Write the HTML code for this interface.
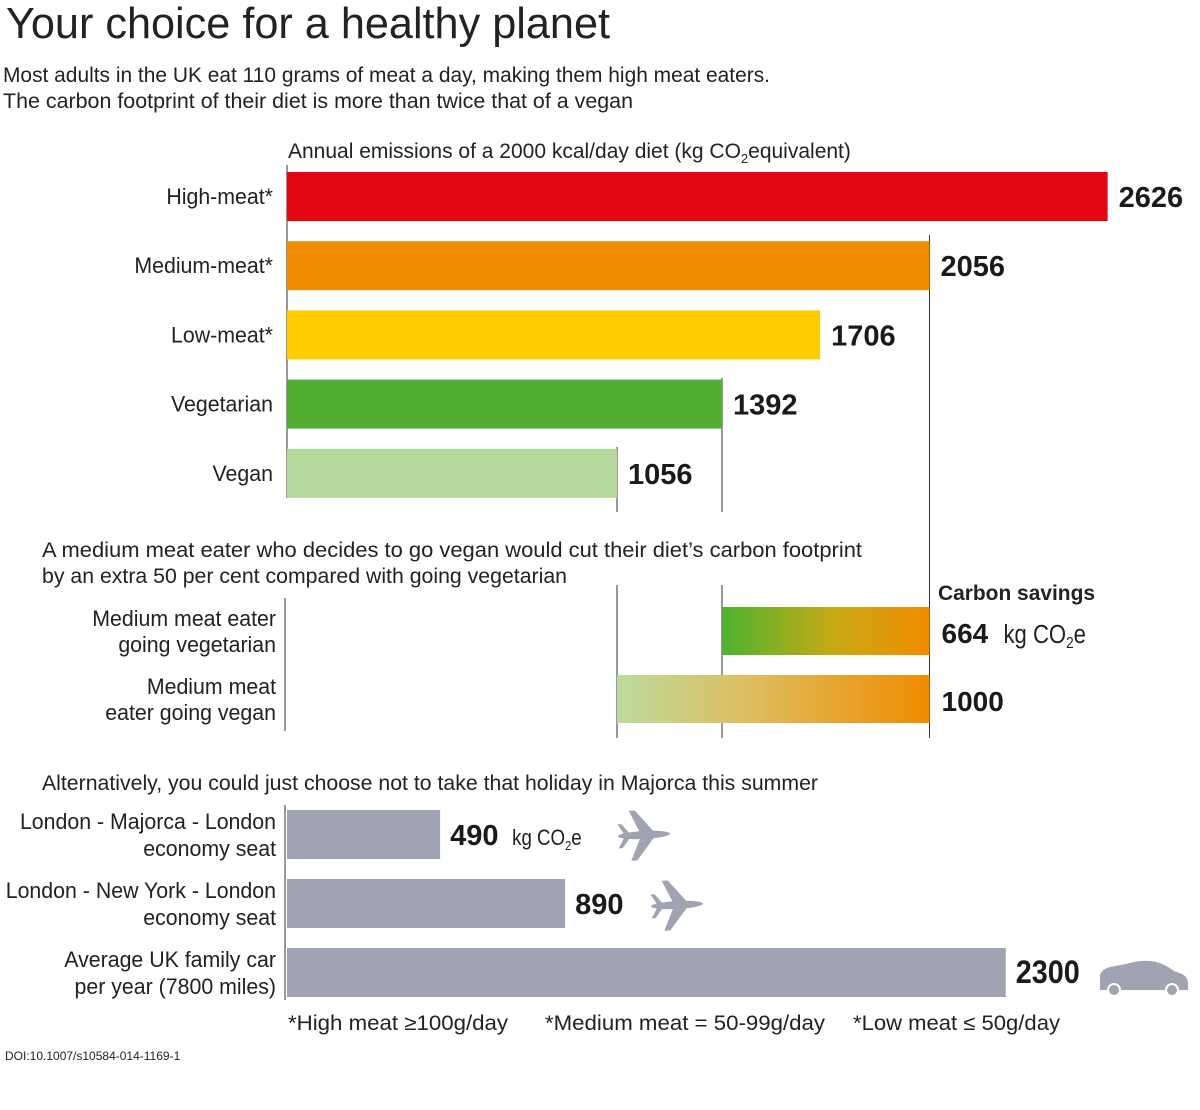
<!DOCTYPE html>
<html><head><meta charset="utf-8"><style>
html,body{margin:0;padding:0;background:#fff;}
svg{display:block;font-family:"Liberation Sans",sans-serif;}
</style></head><body>
<svg id="chart" width="1200" height="1110" viewBox="0 0 1200 1110">
<defs>
<linearGradient id="g1" x1="0" x2="1" y1="0" y2="0"><stop offset="0" stop-color="#4db330"/><stop offset="0.55" stop-color="#c9a914"/><stop offset="1" stop-color="#f08c00"/></linearGradient>
<linearGradient id="g2" x1="0" x2="1" y1="0" y2="0"><stop offset="0" stop-color="#bcdb9e"/><stop offset="0.4" stop-color="#dcbf62"/><stop offset="1" stop-color="#f08c00"/></linearGradient>
<g id="plane"><ellipse cx="0" cy="0" rx="26" ry="4" fill="#a0a4b2"/><polygon points="-4,-3 -14,-25 -8,-25 10,-3 10,3 -8,25 -14,25 -4,3" fill="#a0a4b2"/><polygon points="-20,-2 -26,-12 -22,-12 -14,-2 -14,2 -22,12 -26,12 -20,2" fill="#a0a4b2"/></g>
</defs>
<text x="6" y="38" font-size="44" fill="#222" textLength="604" lengthAdjust="spacingAndGlyphs">Your choice for a healthy planet</text>
<text x="3" y="82" font-size="21" fill="#222" textLength="767" lengthAdjust="spacingAndGlyphs">Most adults in the UK eat 110 grams of meat a day, making them high meat eaters.</text>
<text x="3" y="108" font-size="21" fill="#222" textLength="630" lengthAdjust="spacingAndGlyphs">The carbon footprint of their diet is more than twice that of a vegan</text>
<text x="288" y="158" font-size="21" fill="#222">Annual emissions of a 2000 kcal/day diet (kg CO<tspan font-size="13" dy="5">2</tspan><tspan dy="-5">equivalent)</tspan></text>
<g id="lines"></g>
<g id="diet"></g>
<text x="42" y="557" font-size="21" fill="#222" textLength="820" lengthAdjust="spacingAndGlyphs">A medium meat eater who decides to go vegan would cut their diet’s carbon footprint</text>
<text x="42" y="583" font-size="21" fill="#222" textLength="525" lengthAdjust="spacingAndGlyphs">by an extra 50 per cent compared with going vegetarian</text>
<text x="938" y="600" font-size="21" fill="#222" font-weight="bold" textLength="157" lengthAdjust="spacingAndGlyphs">Carbon savings</text>
<g id="savings"></g>
<text x="42" y="790" font-size="21" fill="#222" textLength="776" lengthAdjust="spacingAndGlyphs">Alternatively, you could just choose not to take that holiday in Majorca this summer</text>
<g id="travel"></g>
<use href="#plane" transform="translate(644,835) rotate(-3)"/>
<use href="#plane" transform="translate(677,905) rotate(-3)"/>
<g fill="#a0a4b2">
<path d="M1100,990 L1100,975 Q1102,969 1110,967 L1126,964 Q1138,960 1150,961 Q1162,962 1174,971 L1182,974 Q1188,977 1188,984 L1188,990 Z"/>
<circle cx="1114" cy="990" r="6" stroke="#fff" stroke-width="2"/><circle cx="1172" cy="990" r="6" stroke="#fff" stroke-width="2"/>
</g>
<text x="288" y="1030" font-size="21" fill="#222" textLength="220" lengthAdjust="spacingAndGlyphs">*High meat ≥100g/day</text>
<text x="545" y="1030" font-size="21" fill="#222" textLength="280" lengthAdjust="spacingAndGlyphs">*Medium meat = 50-99g/day</text>
<text x="853" y="1030" font-size="21" fill="#222" textLength="207" lengthAdjust="spacingAndGlyphs">*Low meat ≤ 50g/day</text>
<text x="5" y="1060" font-size="12" fill="#222">DOI:10.1007/s10584-014-1169-1</text>
</svg>
<script>
const dietCats=["High-meat*","Medium-meat*","Low-meat*","Vegetarian","Vegan"];
const dietVals=[2626,2056,1706,1392,1056];
const dietColors=["#e30613","#f08c00","#ffcc00","#52ae32","#b5d99c"];
const savingsLabels=[["Medium meat eater","going vegetarian"],["Medium meat","eater going vegan"]];
const savingsFrom=[1392,1056];
const savingsTo=[2056,2056];
const savingsVals=[664,1000];
const travelLabels=[["London - Majorca - London","economy seat"],["London - New York - London","economy seat"],["Average UK family car","per year (7800 miles)"]];
const travelVals=[490,890,2300];

const NS="http://www.w3.org/2000/svg";
const x0=287, k=0.3125;
function xs(v){return x0+v*k;}
function mk(parent,tag,attrs,txt){const e=document.createElementNS(NS,tag);for(const a in attrs)e.setAttribute(a,attrs[a]);if(txt!==undefined)e.textContent=txt;document.getElementById(parent).appendChild(e);return e;}
function unit(parent,x,y,fs){
  const u=mk(parent,'text',{x:x,y:y,'font-size':fs,fill:'#222',transform:'translate('+x+',0) scale(0.85,1) translate('+(-x)+',0)'});
  u.textContent='kg CO';
  const s=document.createElementNS(NS,'tspan');s.setAttribute('font-size',Math.round(fs*0.6));s.setAttribute('dy','5');s.textContent='2';u.appendChild(s);
  const e=document.createElementNS(NS,'tspan');e.setAttribute('dy','-5');e.textContent='e';u.appendChild(e);
  return u;
}
const LBLT=function(x){return 'translate('+x+',0) scale(0.97,1) translate('+(-x)+',0)';};

let l;
l=mk('lines','line',{x1:x0,x2:x0,y1:165,y2:498,stroke:'#333','stroke-width':1});


l=mk('lines','line',{x1:x0-2,x2:x0-2,y1:598,y2:731,stroke:'#333','stroke-width':1});


l=mk('lines','line',{x1:x0-2,x2:x0-2,y1:805,y2:1000,stroke:'#333','stroke-width':1});


[[dietVals[1],235,738],[dietVals[3],378,512],[dietVals[3],585,738],[dietVals[4],447,512],[dietVals[4],585,738]].forEach(function(r){
  const ln=mk('lines','line',{x1:xs(r[0]),x2:xs(r[0]),y1:r[1],y2:r[2],stroke:'#333','stroke-width':1});
  
  
});

dietCats.forEach(function(c,i){
  const y=172+i*69.2;
  const r=mk('diet','rect',{x:x0,y:y,width:xs(dietVals[i])-x0,height:49,fill:dietColors[i]});
  
  
  const t=mk('diet','text',{x:273,y:y+32,'font-size':22,fill:'#222','text-anchor':'end',transform:LBLT(273)},c);
  
  
  const v=mk('diet','text',{x:xs(dietVals[i])+11,y:y+35,'font-size':29,'font-weight':'bold',fill:'#1a1a1a'},dietVals[i]);
  
  
});

savingsLabels.forEach(function(lb,i){
  const y=607+i*68;
  const r=mk('savings','rect',{x:xs(savingsFrom[i]),y:y,width:xs(savingsTo[i])-xs(savingsFrom[i]),height:48,fill:'url(#g'+(i+1)+')'});
  
  
  lb.forEach(function(s,j){
    const t=mk('savings','text',{x:276,y:y+19+j*26,'font-size':22,fill:'#222','text-anchor':'end',transform:LBLT(276)},s);
    
    
  });
  const v=mk('savings','text',{x:xs(savingsTo[i])+12,y:y+36,'font-size':28,'font-weight':'bold',fill:'#1a1a1a'},savingsVals[i]);
  
  
  if(i===0){
    const u=unit('savings',xs(savingsTo[i])+74,y+36,26);
    
    
  }
});

travelLabels.forEach(function(lb,i){
  const y=810+i*69;
  const r=mk('travel','rect',{x:x0,y:y,width:xs(travelVals[i])-x0,height:49,fill:'#a0a4b2'});
  
  
  lb.forEach(function(s,j){
    const t=mk('travel','text',{x:276,y:y+19+j*27,'font-size':22,fill:'#222','text-anchor':'end',transform:LBLT(276)},s);
    
    
  });
  const attrs={x:xs(travelVals[i])+10,y:y+35,'font-size':i===2?32:29,'font-weight':'bold',fill:'#1a1a1a'};
  if(i===2){attrs.textLength=64;attrs.lengthAdjust='spacingAndGlyphs';}
  const v=mk('travel','text',attrs,travelVals[i]);
  
  
  if(i===0){
    const u=unit('travel',xs(travelVals[i])+72,y+35,22);
    
    
  }
});
</script>
</body></html>
